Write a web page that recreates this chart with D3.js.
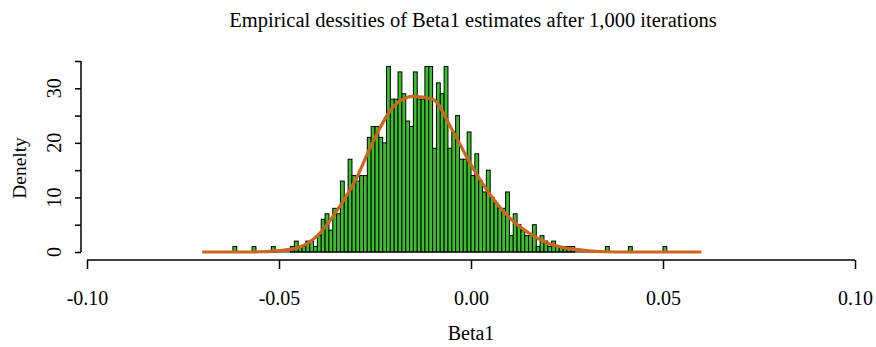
<!DOCTYPE html>
<html lang="en">
<head>
  <meta charset="UTF-8">
  <title>Empirical densities of Beta1</title>
  <style>
    body { margin: 0; background: #fff; }
    svg text { font-family: 'Liberation Serif', 'Times New Roman', serif; fill: #000; }
  </style>
</head>
<body>
<svg id="chart" width="876" height="347"></svg>

<script src="https://d3js.org/d3.v7.min.js"></script>
<script>
// histogram bins: width 0.001, first break at -0.062
const binStart = -0.062;
const binWidth = 0.001;
const binDensity = [
  1,0,0,0,0,1,0,0,0,0,
  1,0,0,0,0,1,2,1,1,2,
  2,1,3,6,7,4,8,7,13,10,
  17,14,13,14,14,21,23,23,21,20,
  34,28,28,33,29,24,23,33,28,28,
  34,34,19,31,29,34,19,22,25,17,
  17,22,14,18,13,11,15,10,9,8,
  8,11,3,7,5,4,3,3,5,1,
  3,2,1,2,1,1,1,1,1,0,
  0,0,0,0,0,0,0,1,0,0,
  0,0,0,1,0,0,0,0,0,0,
  0,0,1
];

// fitted density curve
const curveX = [-0.070,-0.065,-0.060,-0.055,-0.050,-0.045,-0.040,-0.035,-0.030,-0.025,
                -0.020,-0.015,-0.010,-0.005,0.000,0.005,0.010,0.015,0.020,0.025,
                0.030,0.035,0.040,0.045,0.050,0.055,0.060];
const curveY = [0,0,0,0.05,0.25,0.8,3.0,7.5,13.3,21.0,
                26.8,28.5,28.0,22.5,16.0,10.5,6.3,3.5,1.6,0.7,
                0.25,0.05,0,0,0,0,0];

const xTicks = [-0.10, -0.05, 0.00, 0.05, 0.10];
const yTicks = [0, 5, 10, 15, 20, 25, 30, 35];
const yLabels = [0, 10, 20, 30];

const svg = d3.select("#chart");
const x = d3.scaleLinear().domain([-0.10, 0.10]).range([87, 855]);
const y = d3.scaleLinear().domain([0, 35]).range([252, 61]);

// bars
const bins = binDensity.map((d, i) => ({ x0: binStart + i * binWidth, x1: binStart + (i + 1) * binWidth, d }));
svg.append("g").selectAll("rect")
  .data(bins)
  .join("rect")
    .attr("x", b => x(b.x0))
    .attr("width", b => x(b.x1) - x(b.x0))
    .attr("y", b => y(b.d))
    .attr("height", b => y(0) - y(b.d))
    .attr("fill", "#3cbf2c")
    .attr("stroke", "#000")
    .attr("stroke-width", 1);

// zero-height bins show as a line on the baseline
svg.append("line")
  .attr("x1", x(binStart)).attr("x2", x(binStart + binDensity.length * binWidth))
  .attr("y1", y(0)).attr("y2", y(0))
  .attr("stroke", "#000").attr("stroke-width", 1);

// density curve
const line = d3.line()
  .x((d, i) => x(curveX[i]))
  .y(d => y(d))
  .curve(d3.curveMonotoneX);
svg.append("path")
  .datum(curveY)
  .attr("d", line)
  .attr("fill", "none")
  .attr("stroke", "#cd661d")
  .attr("stroke-width", 3.2);

// x axis
const xAxis = svg.append("g").attr("transform", "translate(0,260)")
  .call(d3.axisBottom(x).tickValues(xTicks).tickSize(9).tickFormat(d3.format(".2f")));
xAxis.select(".domain").attr("d", `M${x(-0.10)},0H${x(0.10)}`).attr("stroke-width", 1.5);
xAxis.selectAll(".tick line").attr("stroke-width", 1.5);
xAxis.selectAll(".tick text").attr("font-size", 20).attr("y", 31)
  .attr("font-family", "'Liberation Serif', serif")
  .text(d => d3.format(".2f")(d).replace("−", "-"));

// y axis
const yAxis = svg.append("g").attr("transform", "translate(81,0)")
  .call(d3.axisLeft(y).tickValues(yTicks).tickSize(6).tickFormat(""));
yAxis.select(".domain").attr("d", `M0,${y(0)}V${y(35)}`).attr("stroke-width", 1.5);
yAxis.selectAll(".tick line").attr("stroke-width", 1.5);

svg.append("g").selectAll("text")
  .data(yLabels)
  .join("text")
    .attr("transform", d => `translate(61,${y(d)}) rotate(-90)`)
    .attr("text-anchor", "middle")
    .attr("font-size", 20)
    .text(d => d);

// titles
svg.append("text")
  .attr("x", 473).attr("y", 27)
  .attr("text-anchor", "middle")
  .attr("font-size", 20.5)
  .text("Empirical dessities of Beta1 estimates after 1,000 iterations");

svg.append("text")
  .attr("x", 471).attr("y", 340)
  .attr("text-anchor", "middle")
  .attr("font-size", 20)
  .text("Beta1");

svg.append("text")
  .attr("transform", "translate(26,168) rotate(-90)")
  .attr("text-anchor", "middle")
  .attr("font-size", 19.5)
  .text("Denelty");
</script>
</body>
</html>
